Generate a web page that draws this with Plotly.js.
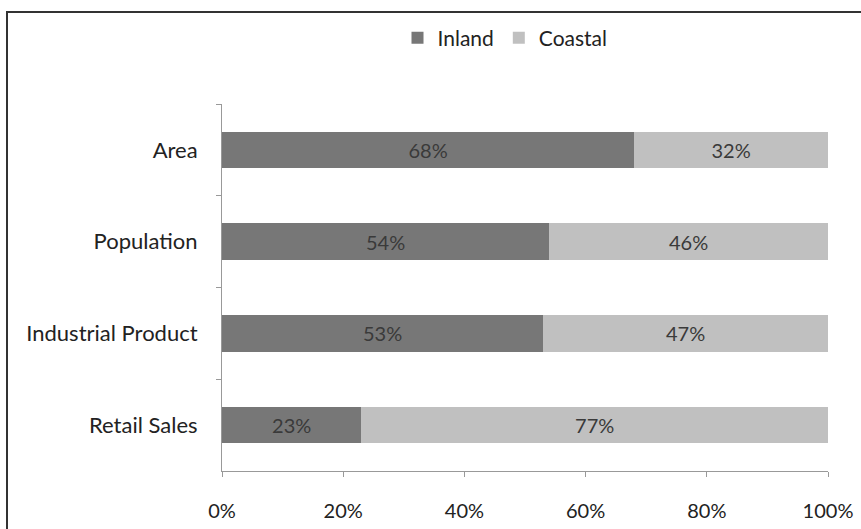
<!DOCTYPE html>
<html><head><meta charset="utf-8">
<script src="https://cdn.plot.ly/plotly-3.0.1.min.js"></script>
<style>body{margin:0;padding:0;background:#fff}#chart{width:861px;height:529px}</style>
</head><body><div id="chart"></div>
<script>
const categories = ["Area", "Population", "Industrial Product", "Retail Sales"];
const inland = [68, 54, 53, 23];
const coastal = [32, 46, 47, 77];
const tickVals = [0, 20, 40, 60, 80, 100];
const tickText = ["0%", "20%", "40%", "60%", "80%", "100%"];

const font = "Lato, 'Open Sans', sans-serif";
const traces = [
  {type: "bar", orientation: "h", name: "Inland", y: categories, x: inland,
   marker: {color: "#777777"}, text: inland.map(v => v + "%"), textposition: "inside",
   insidetextanchor: "middle", textfont: {color: "#3a3a3a", size: 20, family: font}, hoverinfo: "none"},
  {type: "bar", orientation: "h", name: "Coastal", y: categories, x: coastal,
   marker: {color: "#c0c0c0"}, text: coastal.map(v => v + "%"), textposition: "inside",
   insidetextanchor: "middle", textfont: {color: "#3a3a3a", size: 20, family: font}, hoverinfo: "none"}
];
const layout = {
  width: 861, height: 529,
  margin: {l: 222, r: 33, t: 104, b: 58, autoexpand: false},
  barmode: "stack", bargap: 0.6,
  paper_bgcolor: "#fff", plot_bgcolor: "#fff",
  font: {family: font, size: 20, color: "#222"},
  showlegend: true,
  legend: {orientation: "h", x: 505 / 861, xanchor: "center", xref: "container",
           y: 1 - 38/529, yanchor: "middle", yref: "container", bgcolor: "rgba(0,0,0,0)",
           font: {size: 21, color: "#222"}, traceorder: "normal"},
  xaxis: {range: [0, 100], tickvals: tickVals, ticktext: tickText, showgrid: false,
          zeroline: false, showline: true, linecolor: "#999", linewidth: 1,
          ticks: "outside", ticklen: 5, tickcolor: "#999", ticklabelstandoff: 17,
          tickfont: {size: 20}, fixedrange: true, automargin: false},
  yaxis: {type: "category", autorange: "reversed", showgrid: false, showline: true,
          linecolor: "#999", linewidth: 1, ticks: "outside", ticklen: 5, tickcolor: "#999",
          tickson: "boundaries", ticklabelstandoff: 19, tickfont: {size: 22},
          fixedrange: true, automargin: false},
  shapes: [{type: "rect", xref: "paper", yref: "paper",
            x0: (7 - 222) / 606, x1: 1.2, y0: -0.5, y1: (471 - 12) / 367,
            line: {color: "#333", width: 2}, fillcolor: "rgba(0,0,0,0)"}]
};
Plotly.newPlot("chart", traces, layout, {displayModeBar: false, staticPlot: true});
</script></body></html>
